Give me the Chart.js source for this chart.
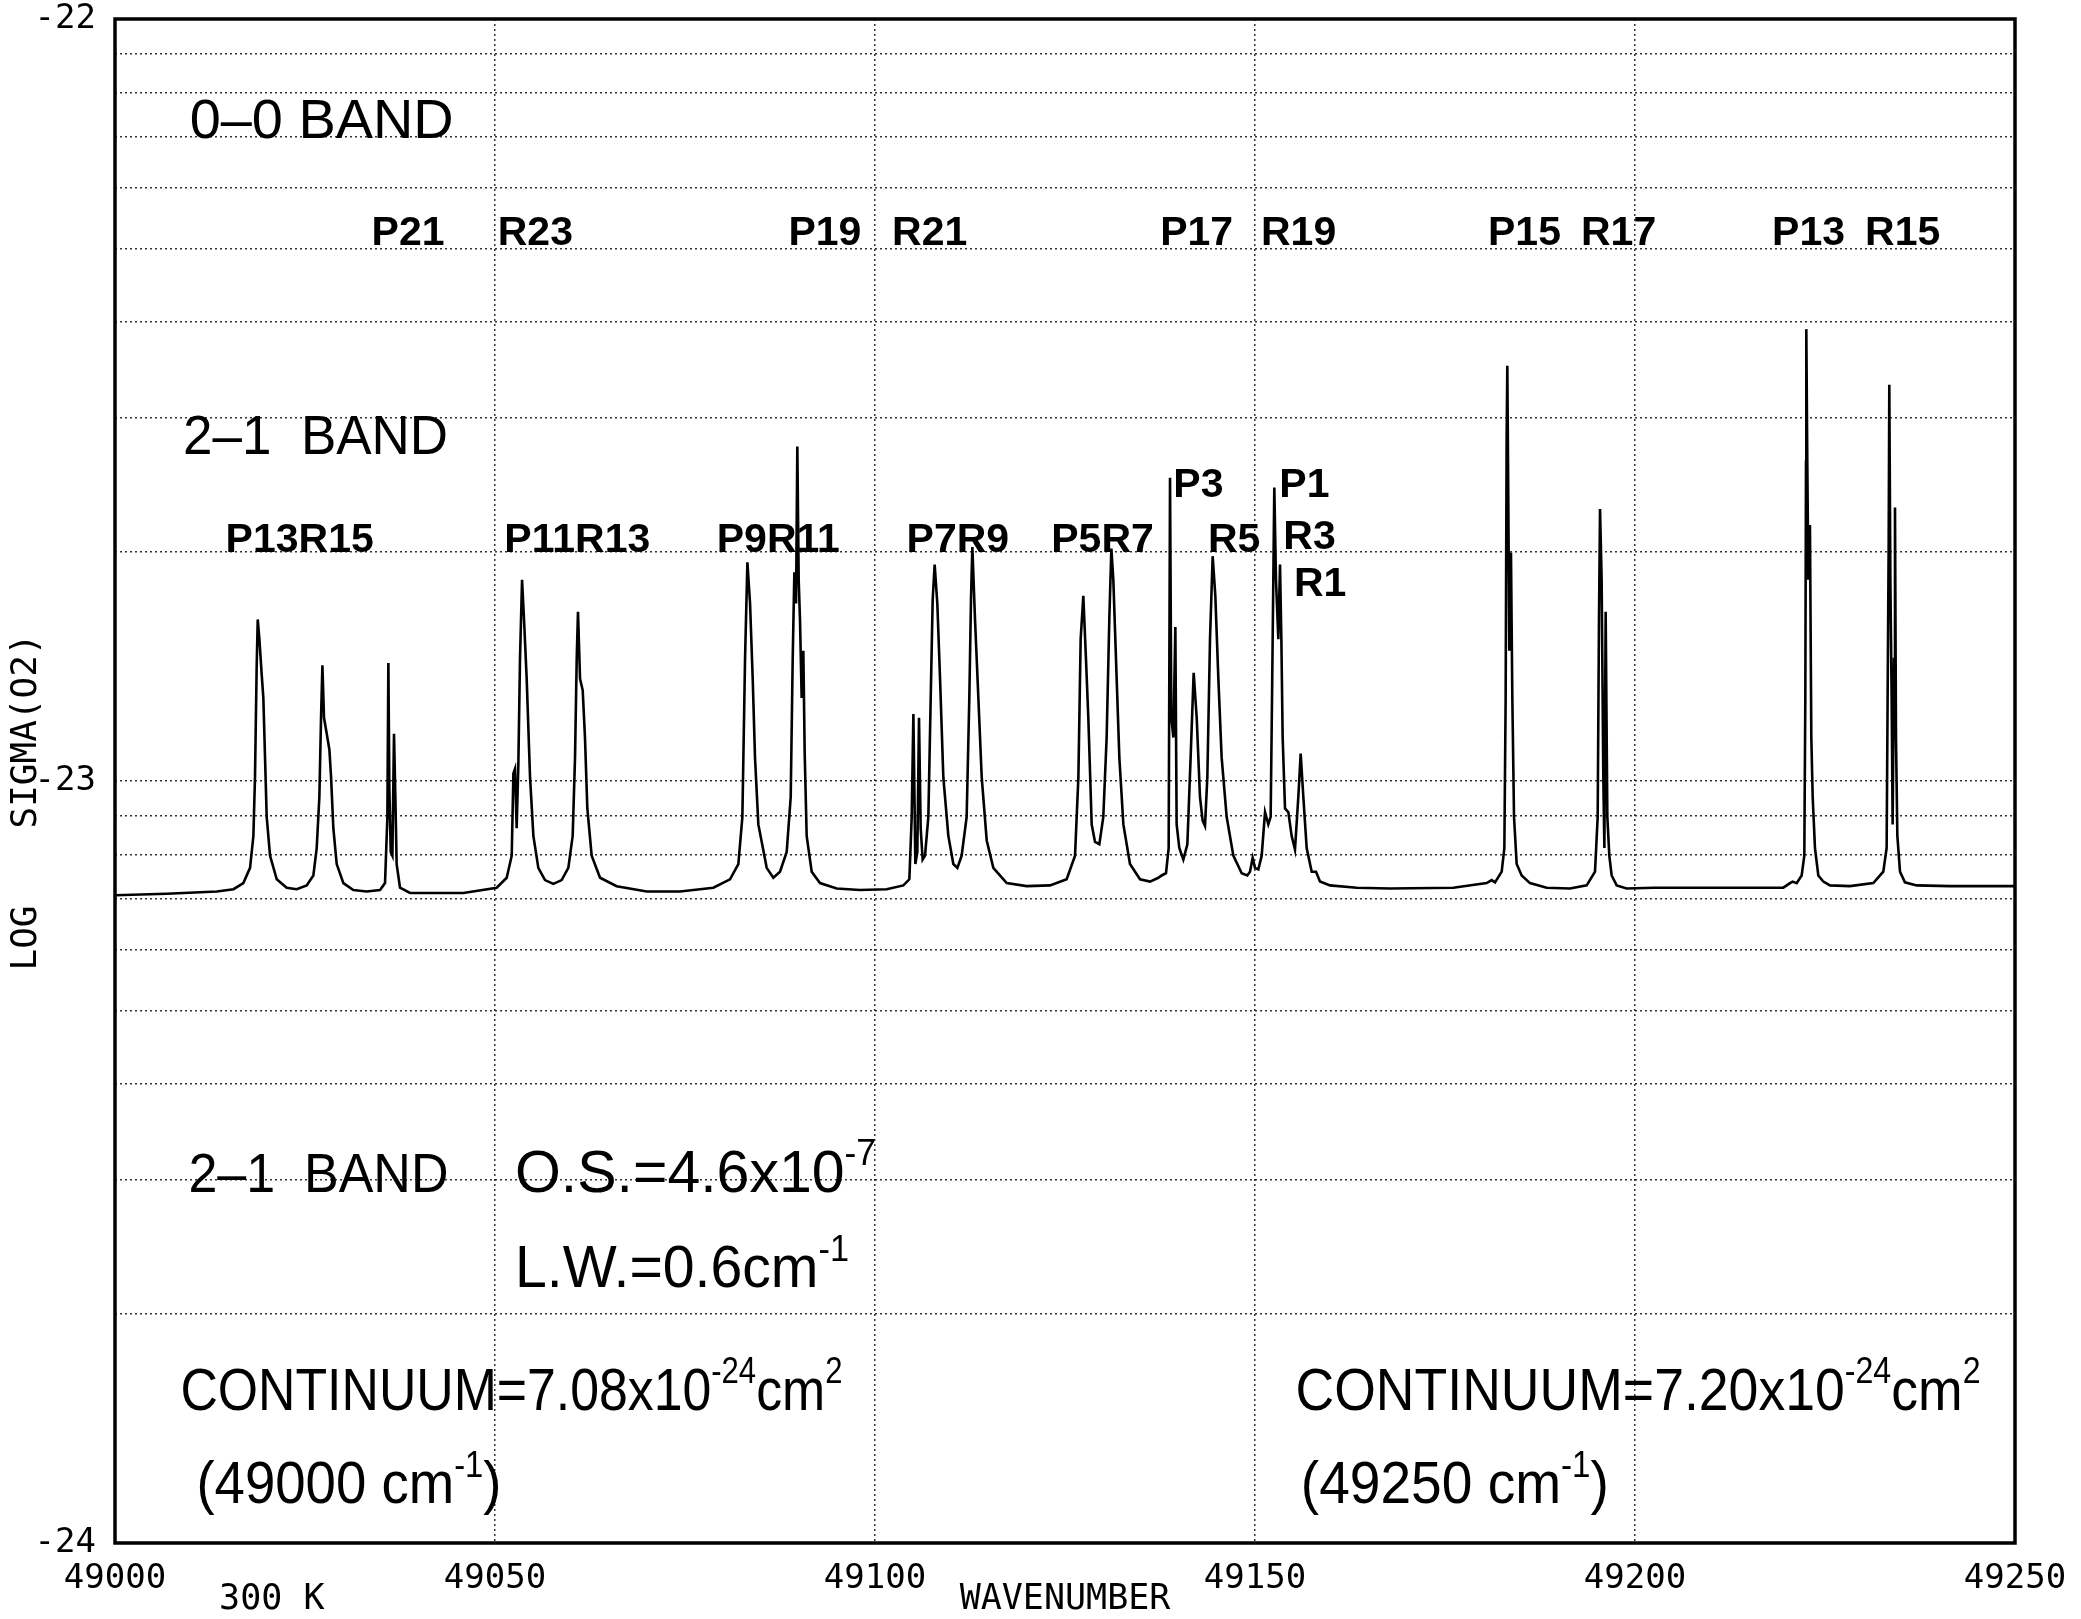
<!DOCTYPE html>
<html>
<head>
<meta charset="utf-8">
<title>O2 cross section, 2-1 band</title>
<script src="https://cdn.jsdelivr.net/npm/chart.js@4.4.0/dist/chart.umd.min.js"></script>
<style>
  html, body { margin: 0; padding: 0; background: #fff; }
  #wrap { width: 2081px; height: 1619px; }
</style>
</head>
<body>
<div id="wrap"><canvas id="myChart" width="2081" height="1619"></canvas></div>
<script>
// spectrum: wavenumber (cm-1) and log10 of sigma (cm2)
const wavenumber = [
  // P13 R15 / P21 group
  49000.0, 49006.8, 49013.4, 49015.6, 49016.89, 49017.77, 49018.21, 49018.42, 49018.64, 49018.78,
  49019.0, 49019.3, 49019.52, 49019.74, 49019.96, 49020.4, 49021.28, 49022.59, 49023.91, 49025.22,
  49026.1, 49026.54, 49026.89, 49027.11, 49027.29, 49027.5, 49027.86, 49028.21, 49028.43, 49028.73,
  49029.17, 49030.05, 49031.36, 49033.12, 49034.87, 49035.53, 49035.84, 49035.97, 49036.1, 49036.28,
  49036.5, 49036.71, 49036.89, 49037.06, 49037.5, 49038.82,
  // P11 R13 / P9
  49045.84, 49050.22, 49051.54, 49052.2, 49052.42, 49052.63, 49052.85, 49053.07, 49053.29, 49053.56,
  49053.82, 49054.17, 49054.61, 49055.05, 49055.7, 49056.58, 49057.68, 49058.77, 49059.65, 49060.22,
  49060.53, 49060.75, 49060.92, 49061.19, 49061.54, 49061.84, 49062.15, 49062.72, 49063.82, 49066.01,
  49069.96, 49074.35, 49078.73, 49080.92, 49082.02, 49082.55, 49082.9, 49083.21, 49083.56, 49083.91,
  49084.21, 49084.65,
  // R11 / P7 R9 / P5
  49085.75, 49086.62, 49087.5, 49088.38, 49088.91, 49089.17, 49089.39, 49089.61, 49089.78, 49089.96,
  49090.13, 49090.35, 49090.57, 49090.75, 49091.01, 49091.67, 49092.76, 49094.96, 49098.03, 49101.54,
  49103.73, 49104.52, 49104.83, 49105.05, 49105.31, 49105.57, 49105.79, 49106.01, 49106.27, 49106.58,
  49107.02, 49107.33, 49107.59, 49107.85, 49108.2, 49108.56, 49108.99, 49109.65, 49110.31, 49110.84,
  49111.4, 49112.06, 49112.41, 49112.63, 49112.81, 49113.16, 49113.6, 49114.04, 49114.7, 49115.57,
  49117.33, 49119.96, 49123.03, 49125.22, 49126.32, 49126.76, 49127.06, 49127.41, 49127.76, 49128.07,
  // R7 / P3 / R5 / P1 R3 R1
  49128.51, 49128.95, 49129.52, 49130.04, 49130.48, 49130.83, 49131.1, 49131.36, 49131.71, 49132.15,
  49132.68, 49133.55, 49134.87, 49136.19, 49137.28, 49137.72, 49138.29, 49138.64, 49138.82, 49138.99,
  49139.26, 49139.52, 49139.69, 49140.04, 49140.57, 49141.1, 49141.53, 49141.93, 49142.33, 49142.76,
  49143.11, 49143.42, 49143.73, 49144.08, 49144.43, 49144.78, 49145.18, 49145.61, 49146.27, 49147.15,
  49148.25, 49148.99, 49149.34, 49149.69, 49150.0, 49150.44, 49150.88, 49151.32, 49151.75, 49152.06,
  49152.24, 49152.41, 49152.54, 49152.76, 49153.07, 49153.29, 49153.47, 49153.64, 49153.95, 49154.39,
  49154.82, 49155.26, 49155.7, 49156.01, 49156.36, 49156.8, 49157.46, 49158.03, 49158.55, 49159.87,
  49163.38, 49167.76,
  // 0-0 band P15 R17
  49176.1, 49180.48, 49181.14, 49181.58, 49182.46, 49182.81, 49182.98, 49183.11, 49183.2, 49183.33,
  49183.46, 49183.68, 49183.86, 49184.08, 49184.43, 49185.09, 49186.18, 49188.38, 49191.45, 49193.64,
  49194.74, 49195.09, 49195.26, 49195.4, 49195.61, 49195.83, 49195.97, 49196.14, 49196.36, 49196.62,
  49196.93, 49197.59, 49198.9, 49202.41,
  // 0-0 band P13 R15
  49219.52, 49220.39, 49220.74, 49221.27, 49221.93, 49222.28, 49222.41, 49222.5, 49222.54, 49222.67,
  49222.81, 49223.02, 49223.2, 49223.38, 49223.68, 49224.12, 49224.78, 49225.66, 49228.29, 49231.36,
  49232.67, 49233.11, 49233.24, 49233.38, 49233.46, 49233.6, 49233.77, 49233.9, 49234.08, 49234.21,
  49234.34, 49234.52, 49234.87, 49235.52, 49237.06, 49241.45, 49250.0
];

const logSigma = [
  -23.150, -23.148, -23.145, -23.142, -23.134, -23.114, -23.072, -22.995, -22.850, -22.788,
  -22.814, -22.860, -22.891, -22.969, -23.047, -23.098, -23.129, -23.140, -23.142, -23.137,
  -23.124, -23.088, -23.021, -22.917, -22.848, -22.917, -22.938, -22.959, -22.995, -23.062,
  -23.109, -23.134, -23.143, -23.145, -23.143, -23.134, -23.047, -22.845, -23.010, -23.093,
  -23.098, -22.938, -23.021, -23.109, -23.140, -23.147,

  -23.147, -23.140, -23.127, -23.098, -22.990, -22.984, -23.062, -22.979, -22.840, -22.736,
  -22.788, -22.866, -22.995, -23.072, -23.114, -23.130, -23.135, -23.130, -23.114, -23.072,
  -22.969, -22.840, -22.778, -22.866, -22.881, -22.943, -23.036, -23.098, -23.127, -23.138,
  -23.145, -23.145, -23.140, -23.129, -23.109, -23.047, -22.840, -22.713, -22.767, -22.866,
  -22.969, -23.057,

  -23.114, -23.127, -23.119, -23.093, -23.021, -22.840, -22.726, -22.767, -22.561, -22.736,
  -22.788, -22.891, -22.829, -22.964, -23.072, -23.119, -23.134, -23.141, -23.143, -23.142,
  -23.137, -23.129, -23.047, -22.912, -23.109, -23.093, -22.917, -23.062, -23.103, -23.098,
  -23.047, -22.891, -22.762, -22.716, -22.767, -22.866, -22.995, -23.072, -23.109, -23.114,
  -23.098, -23.047, -22.891, -22.762, -22.693, -22.788, -22.891, -22.995, -23.078, -23.114,
  -23.134, -23.138, -23.137, -23.129, -23.098, -22.995, -22.814, -22.757, -22.840, -22.917,

  -23.057, -23.080, -23.083, -23.047, -22.943, -22.788, -22.695, -22.736, -22.840, -22.969,
  -23.057, -23.109, -23.129, -23.132, -23.127, -23.124, -23.121, -23.088, -22.602, -22.917,
  -22.943, -22.798, -23.057, -23.088, -23.103, -23.083, -22.969, -22.858, -22.917, -23.021,
  -23.052, -23.059, -22.995, -22.814, -22.705, -22.757, -22.866, -22.969, -23.047, -23.098,
  -23.121, -23.124, -23.119, -23.101, -23.114, -23.116, -23.098, -23.041, -23.057, -23.047,
  -22.891, -22.736, -22.615, -22.736, -22.814, -22.716, -22.814, -22.943, -23.036, -23.041,
  -23.072, -23.090, -23.021, -22.964, -23.021, -23.088, -23.119, -23.119, -23.132, -23.137,
  -23.140, -23.141,

  -23.140, -23.134, -23.130, -23.133, -23.119, -23.088, -22.891, -22.550, -22.455, -22.633,
  -22.829, -22.700, -22.891, -23.047, -23.109, -23.124, -23.134, -23.140, -23.141, -23.137,
  -23.119, -23.047, -22.788, -22.643, -22.736, -22.995, -23.088, -22.778, -23.047, -23.098,
  -23.124, -23.137, -23.141, -23.140,

  -23.140, -23.134, -23.132, -23.134, -23.124, -23.098, -22.891, -22.581, -22.407, -22.581,
  -22.736, -22.664, -22.943, -23.021, -23.088, -23.124, -23.132, -23.137, -23.138, -23.134,
  -23.119, -23.088, -22.891, -22.685, -22.480, -22.736, -22.891, -23.057, -22.840, -22.641,
  -22.943, -23.072, -23.119, -23.133, -23.137, -23.138, -23.138
];

const xTickValues = [49000, 49050, 49100, 49150, 49200, 49250];
const yDecades = [-24, -23, -22];

// grid lines at k * 10^n inside each decade (log paper)
const yGrid = [];
for (let d = yDecades[0]; d < yDecades[yDecades.length - 1]; d++) {
  for (let k = 1; k <= 9; k++) yGrid.push(d + Math.log10(k));
}
yGrid.push(yDecades[yDecades.length - 1]);

const points = wavenumber.map((w, i) => ({ x: w, y: logSigma[i] }));

// line identifications and notes, anchored in data units (left edge, baseline)
const lineFont = { size: 41, bold: true };
const bandFont = { size: 55, bold: false };
const noteFont = { size: 60, bold: false };
const textLabels = [
  { x: 49009.83, y: -22.156, t: '0–0 BAND', f: bandFont, fit: 264 },
  { x: 49008.96, y: -22.571, t: '2–1  BAND', f: bandFont, fit: 265 },

  { x: 49033.76, y: -22.297, t: 'P21', f: lineFont },
  { x: 49050.36, y: -22.297, t: 'R23', f: lineFont },
  { x: 49088.61, y: -22.297, t: 'P19', f: lineFont },
  { x: 49102.24, y: -22.297, t: 'R21', f: lineFont },
  { x: 49137.52, y: -22.297, t: 'P17', f: lineFont },
  { x: 49150.79, y: -22.297, t: 'R19', f: lineFont },
  { x: 49180.66, y: -22.297, t: 'P15', f: lineFont },
  { x: 49192.89, y: -22.297, t: 'R17', f: lineFont },
  { x: 49218.04, y: -22.297, t: 'P13', f: lineFont },
  { x: 49230.27, y: -22.297, t: 'R15', f: lineFont },

  { x: 49014.55, y: -22.700, t: 'P13R15', f: lineFont },
  { x: 49051.23, y: -22.700, t: 'P11R13', f: lineFont },
  { x: 49079.18, y: -22.700, t: 'P9R11', f: lineFont },
  { x: 49104.15, y: -22.700, t: 'P7R9', f: lineFont },
  { x: 49123.19, y: -22.700, t: 'P5R7', f: lineFont },
  { x: 49143.80, y: -22.700, t: 'R5', f: lineFont },
  { x: 49139.25, y: -22.627, t: 'P3', f: lineFont },
  { x: 49153.20, y: -22.627, t: 'P1', f: lineFont },
  { x: 49153.73, y: -22.696, t: 'R3', f: lineFont },
  { x: 49155.13, y: -22.757, t: 'R1', f: lineFont },

  { x: 49009.66, y: -23.539, t: '2–1  BAND', f: bandFont, fit: 260 },
  { x: 49052.63, y: -23.539, t: 'O.S.=4.6x10^{-7}', f: noteFont, fit: 361 },
  { x: 49052.63, y: -23.664, t: 'L.W.=0.6cm^{-1}', f: noteFont, fit: 334 },
  { x: 49008.61, y: -23.825, t: 'CONTINUUM=7.08x10^{-24}cm^{2}', f: noteFont, fit: 662 },
  { x: 49010.71, y: -23.948, t: '(49000 cm^{-1})', f: noteFont, fit: 305 },
  { x: 49155.33, y: -23.825, t: 'CONTINUUM=7.20x10^{-24}cm^{2}', f: noteFont, fit: 685 },
  { x: 49156.03, y: -23.948, t: '(49250 cm^{-1})', f: noteFont, fit: 308 }
];

const plotterFont = '"DejaVu Sans Mono", "Liberation Mono", monospace';
const textFont = '"Liberation Sans", Arial, Helvetica, sans-serif';

// split 'abc^{sup}def' into runs
function splitRuns(str) {
  const runs = [];
  const re = /\^\{([^}]*)\}/g;
  let last = 0, m;
  while ((m = re.exec(str)) !== null) {
    if (m.index > last) runs.push({ t: str.slice(last, m.index), sup: false });
    runs.push({ t: m[1], sup: true });
    last = re.lastIndex;
  }
  if (last < str.length) runs.push({ t: str.slice(last), sup: false });
  return runs;
}

function fontFor(f, sup) {
  const size = sup ? Math.round(f.size * 0.6) : f.size;
  return (f.bold ? 'bold ' : '') + size + 'px ' + textFont;
}

function drawLabel(ctx, px, py, lab) {
  const runs = splitRuns(lab.t);
  let natural = 0;
  runs.forEach(r => { ctx.font = fontFor(lab.f, r.sup); natural += ctx.measureText(r.t).width; });
  const sx = lab.fit ? lab.fit / natural : 1;
  ctx.save();
  ctx.translate(px, py);
  ctx.scale(sx, 1);
  ctx.fillStyle = '#000';
  ctx.textAlign = 'left';
  ctx.textBaseline = 'alphabetic';
  let cx = 0;
  runs.forEach(r => {
    ctx.font = fontFor(lab.f, r.sup);
    ctx.fillText(r.t, cx, r.sup ? -lab.f.size * 0.44 : 0);
    cx += ctx.measureText(r.t).width;
  });
  ctx.restore();
}

const decorPlugin = {
  id: 'decor',
  afterDraw(chart) {
    const ctx = chart.ctx;
    const area = chart.chartArea;
    const xs = chart.scales.x, ys = chart.scales.y;

    // frame
    ctx.save();
    ctx.strokeStyle = '#000';
    ctx.lineWidth = 3.5;
    ctx.strokeRect(area.left, area.top, area.right - area.left, area.bottom - area.top);
    ctx.restore();

    textLabels.forEach(lab => drawLabel(ctx, xs.getPixelForValue(lab.x), ys.getPixelForValue(lab.y), lab));

    ctx.save();
    ctx.fillStyle = '#000';
    ctx.font = '35px ' + plotterFont;
    ctx.textBaseline = 'middle';
    // x title and temperature
    ctx.textAlign = 'center';
    ctx.fillText('WAVENUMBER', (area.left + area.right) / 2, area.bottom + 57);
    ctx.textAlign = 'left';
    ctx.fillText('300 K', xs.getPixelForValue(49013.7), area.bottom + 57);
    // y title, rotated, in two pieces
    ctx.font = '36px ' + plotterFont;
    ctx.textAlign = 'center';
    ctx.save();
    ctx.translate(27, 731);
    ctx.rotate(-Math.PI / 2);
    ctx.fillText('SIGMA(O2)', 0, 0);
    ctx.restore();
    ctx.translate(27, 938);
    ctx.rotate(-Math.PI / 2);
    ctx.fillText('LOG', 0, 0);
    ctx.restore();
  }
};

const gridStyle = { color: 'rgba(0,0,0,0.8)', lineWidth: 1.5, drawTicks: false };
const gridBorder = { display: false, dash: [2, 3] };

const ctx = document.getElementById('myChart').getContext('2d');
new Chart(ctx, {
  type: 'line',
  data: {
    datasets: [{
      data: points,
      borderColor: '#000',
      borderWidth: 2.6,
      pointRadius: 0,
      tension: 0,
      fill: false
    }]
  },
  options: {
    responsive: false,
    animation: false,
    devicePixelRatio: 1,
    layout: { padding: { top: 19, right: 66, left: 0, bottom: 0 } },
    plugins: { legend: { display: false }, tooltip: { enabled: false } },
    scales: {
      x: {
        type: 'linear',
        min: 49000,
        max: 49250,
        afterBuildTicks: (scale) => { scale.ticks = xTickValues.map(v => ({ value: v })); },
        afterFit: (scale) => {
          scale.height = 76;
          scale.paddingLeft = 0;
          scale.paddingRight = 0;
        },
        grid: gridStyle,
        border: gridBorder,
        ticks: {
          autoSkip: false,
          maxRotation: 0,
          padding: 16,
          color: '#000',
          font: { family: plotterFont, size: 34 },
          callback: (v) => String(v)
        }
      },
      y: {
        type: 'linear',
        min: -24,
        max: -22,
        afterBuildTicks: (scale) => { scale.ticks = yGrid.map(v => ({ value: v })); },
        afterFit: (scale) => {
          scale.width = 115;
          scale.paddingTop = 0;
          scale.paddingBottom = 0;
        },
        grid: gridStyle,
        border: gridBorder,
        ticks: {
          autoSkip: false,
          padding: 19,
          color: '#000',
          font: { family: plotterFont, size: 34 },
          callback: (v) => Math.abs(v - Math.round(v)) < 1e-9 ? String(Math.round(v)) : ''
        }
      }
    }
  },
  plugins: [decorPlugin]
});
</script>
</body>
</html>
